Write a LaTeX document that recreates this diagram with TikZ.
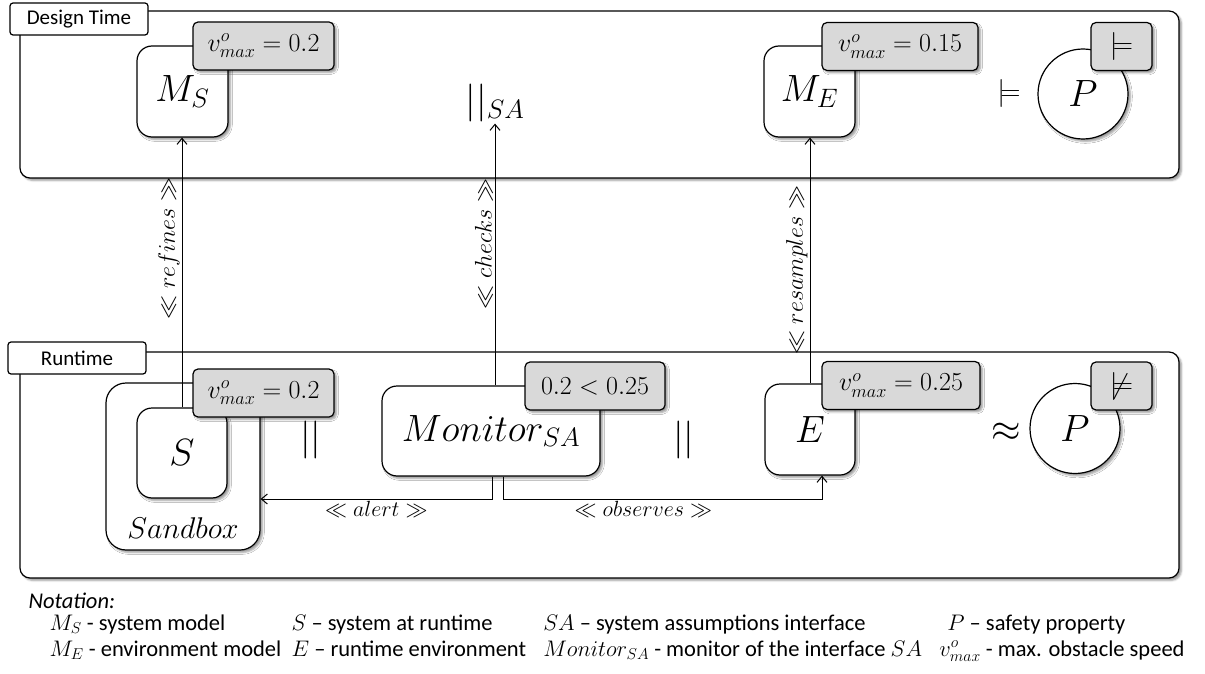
\RequirePackage{fix-cm}
\documentclass[tikz,border=0pt]{standalone}
\usepackage[no-math]{fontspec}
\setmainfont{Carlito}
\usetikzlibrary{shadows,shadows.blur,arrows.meta}
\definecolor{badgegray}{HTML}{D9D9D9}
\begin{document}
\begin{tikzpicture}[x=1pt,y=-1pt,line width=1.2pt,
  frm/.style={draw, rounded corners=10pt, fill=white, blur shadow, inner sep=0pt},
  tagbox/.style={draw, rounded corners=3pt, fill=white, inner sep=0pt, minimum width=138pt, minimum height=32pt, font=\fontsize{21}{24}\selectfont},
  mbox/.style={draw, rounded corners=15pt, fill=white, blur shadow, inner sep=0pt, font=\fontsize{38}{44}\selectfont},
  badge/.style={draw, rounded corners=5pt, fill=badgegray, blur shadow, inner sep=0pt, minimum height=48pt, font=\fontsize{26}{30}\selectfont},
  propc/.style={draw, circle, fill=white, blur shadow, minimum size=90pt, inner sep=0pt, font=\fontsize{38}{44}\selectfont},
  symb/.style={inner sep=1pt, font=\fontsize{38}{44}\selectfont},
  clbl/.style={inner sep=2pt, font=\fontsize{22}{26}\selectfont},
  vlbl/.style={inner sep=2pt, font=\fontsize{24}{28}\selectfont},
  conn/.style={-{Straight Barb[length=6pt,width=10pt]}, line width=1pt},
  notetxt/.style={anchor=base west, inner sep=0pt, font=\fontsize{22.5}{26}\selectfont}]

\useasboundingbox (0,0) rectangle (1205,674);

% frames
\node[frm, minimum width=1159pt, minimum height=167pt] (design) at (599.5,94.5) {};
\node[tagbox] (designtag) at (79,19) {Design Time};
\node[frm, minimum width=1159pt, minimum height=226pt] (runtime) at (599.5,465) {};
\node[tagbox] (runtimetag) at (77,358) {Runtime};

% design time
\node[mbox, minimum width=91pt, minimum height=91pt] (MS) at (182.5,91.5) {$M_S$};
\node[badge, minimum width=141pt] (vMS) at (263.5,46) {$v^o_{max} = 0.2$};
\node[symb] (par) at (495,103) {$||_{SA}$};
\node[mbox, minimum width=91pt, minimum height=91pt] (ME) at (809.5,91.5) {$M_E$};
\node[badge, minimum width=156pt] (vME) at (900,46.5) {$v^o_{max} = 0.15$};
\node[symb, font=\fontsize{28}{32}\selectfont] (models) at (1009,94) {$\models$};
\node[propc] (P1) at (1083,94) {$P$};
\node[badge, minimum width=61pt, font=\fontsize{28}{32}\selectfont] (b1) at (1121.5,46.5) {$\models$};

% runtime
\node[draw, rounded corners=20pt, fill=white, blur shadow, minimum width=154pt, minimum height=167pt] (sandbox) at (183,466.5) {};
\node[font=\fontsize{30}{34}\selectfont] (sbtext) at (183,528) {$Sandbox$};
\node[mbox, minimum width=90pt, minimum height=90pt] (S) at (182,453) {$S$};
\node[badge, minimum width=141pt] (vS) at (263.5,393) {$v^o_{max} = 0.2$};
\node[symb] (par1) at (311,440) {$||$};
\node[mbox, minimum width=218pt, minimum height=90pt] (Mon) at (491,431) {$Monitor_{SA}$};
\node[badge, minimum width=140pt] (cmp) at (595,386) {$0.2 < 0.25$};
\node[symb] (par2) at (684,440) {$||$};
\node[mbox, minimum width=90pt, minimum height=91pt] (E) at (810,429.5) {$E$};
\node[badge, minimum width=158pt] (vE) at (901,385.5) {$v^o_{max} = 0.25$};
\node[symb] (approx) at (1006,432) {$\approx$};
\node[propc] (P2) at (1075,428.5) {$P$};
\node[badge, minimum width=61pt, font=\fontsize{28}{32}\selectfont] (b2) at (1121.5,386) {$\not\models$};

% connectors
\coordinate (busrow) at (0,499);
\draw[conn] (S.north) -- (S.north |- MS.south)
  node[vlbl, pos=0.59, rotate=90, above] {$\ll refines \gg$};
\draw[conn] (par.south |- Mon.north) -- (par.south)
  node[vlbl, pos=0.54, rotate=90, above] {$\ll checks \gg$};
\draw[conn] (E.north) -- (E.north |- ME.south)
  node[vlbl, pos=0.46, rotate=90, above] {$\ll resamples \gg$};
\draw[conn] ([xshift=1pt]Mon.south) -- ([xshift=1pt]Mon.south |- busrow) -- (sandbox.east |- busrow)
  node[clbl, midway, below] {$\ll alert \gg$};
\draw[conn] ([xshift=12pt]Mon.south) -- ([xshift=12pt]Mon.south |- busrow) -- ([xshift=12pt]E.south |- busrow)
  node[clbl, pos=0.44, below] {$\ll observes \gg$} -- ([xshift=12pt]E.south);

% notation
\coordinate (row1) at (0,630);
\node[notetxt, font=\fontsize{22.5}{26}\selectfont\itshape] (notation) at (28,608) {Notation:};
\node[notetxt] (n5) at (49,656) {$M_E$ - environment model};
\node[notetxt] (n6) at ([xshift=9pt]n5.base east) {$E$ – runtime environment};
\node[notetxt] (n7) at ([xshift=16pt]n6.base east) {$Monitor_{SA}$ - monitor of the interface $SA$};
\node[notetxt] (n8) at ([xshift=16pt]n7.base east) {$v^o_{max}$ - max. obstacle speed};
\node[notetxt] (n1) at (49,630) {$M_S$ - system model};
\node[notetxt] (n2) at (n6.base west |- row1) {$S$ – system at runtime};
\node[notetxt] (n3) at (n7.base west |- row1) {$SA$ – system assumptions interface};
\node[notetxt] (n4) at ([xshift=8pt]n8.base west |- row1) {$P$ – safety property};
\end{tikzpicture}
\end{document}
